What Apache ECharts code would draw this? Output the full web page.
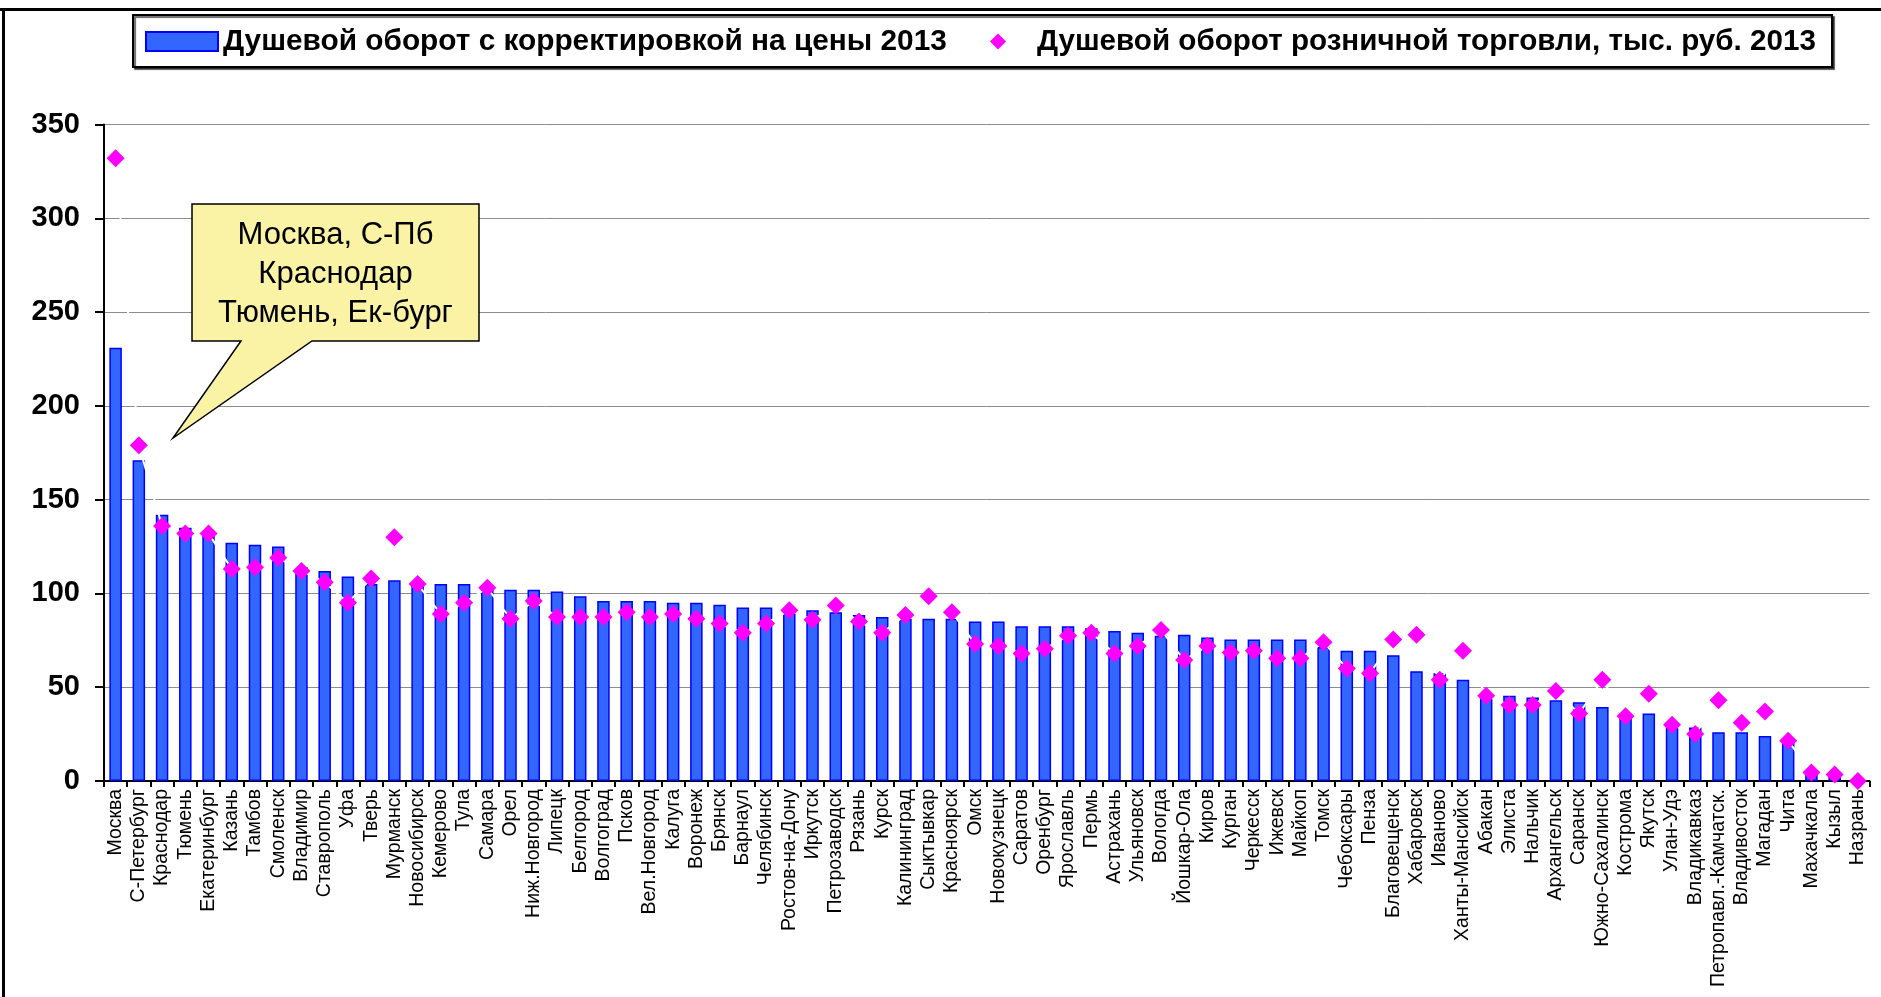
<!DOCTYPE html>
<html>
<head>
<meta charset="utf-8">
<script src="https://cdn.jsdelivr.net/npm/echarts@6/dist/echarts.min.js"></script>
<style>
html,body{margin:0;padding:0;background:#fff;}
#chart{width:1881px;height:997px;}
</style>
</head>
<body>
<div id="chart"></div>
<script>
const categories = ['Москва','С-Петербург','Краснодар','Тюмень','Екатеринбург','Казань','Тамбов','Смоленск','Владимир','Ставрополь','Уфа','Тверь','Мурманск','Новосибирск','Кемерово','Тула','Самара','Орел','Ниж.Новгород','Липецк','Белгород','Волгоград','Псков','Вел.Новгород','Калуга','Воронеж','Брянск','Барнаул','Челябинск','Ростов-на-Дону','Иркутск','Петрозаводск','Рязань','Курск','Калининград','Сыктывкар','Красноярск','Омск','Новокузнецк','Саратов','Оренбург','Ярославль','Пермь','Астрахань','Ульяновск','Вологда','Йошкар-Ола','Киров','Курган','Черкесск','Ижевск','Майкоп','Томск','Чебоксары','Пенза','Благовещенск','Хабаровск','Иваново','Ханты-Мансийск','Абакан','Элиста','Нальчик','Архангельск','Саранск','Южно-Сахалинск','Кострома','Якутск','Улан-Удэ','Владикавказ','Петропавл.-Камчатск.','Владивосток','Магадан','Чита','Махачкала','Кызыл','Назрань'];

const adjustedTurnover = [231,171,142,135,133,127,126,125,114,112,109,105,107,106,105,105,104,102,102,101,98.5,96,96,96,95,95,94,92.5,92.5,92,91,90,88.5,87.5,86.5,86.5,86.5,85,85,82.5,82.5,82.5,81.5,80,79,77.5,78,76.5,75.5,75.5,75.5,75.5,71.5,69.5,69.5,67,58.5,57.5,54,45.5,45.5,44.5,43,42,39.5,36,36,30,28.5,26,26,24,21,4,3,0];

const retailTurnover = [332,179,136,132,132,113,114,119,112,106,95,108,130,105,89,95,103,86.5,96,87.5,87.5,87.5,90,87.5,89,86.5,84,79,84,91,86,93.5,85,79,88.5,98.5,90,73,72,68,70.5,77.5,79,68,72,80.5,64.5,72,68.5,69.5,65.5,65.5,74,60,57.5,75.5,78,54,69.5,45.5,40.5,40.5,48,36,54,34.5,46.5,30,25,43,31,37,21.5,4.5,3.5,0];

const yTicks = {min: 0, max: 350, interval: 50};

const seriesNames = ['Душевой оборот с корректировкой на цены 2013', 'Душевой оборот розничной торговли, тыс. руб. 2013'];
const calloutText = 'Москва, С-Пб\nКраснодар\nТюмень, Ек-бург';

const FONT = "'Liberation Sans', Arial, sans-serif";
const chart = echarts.init(document.getElementById('chart'), null, {renderer: 'canvas'});

chart.setOption({
  animation: false,
  backgroundColor: '#fff',
  textStyle: {fontFamily: FONT},
  grid: {left: 104, right: 11.5, top: 124.5, bottom: 216, containLabel: false},
  legend: [
    {
      data: [{name: seriesNames[0], icon: 'rect'}],
      left: 145, top: 26.5, padding: 0,
      itemWidth: 72, itemHeight: 19,
      selectedMode: false,
      textStyle: {fontSize: 29.8, fontWeight: 'bold', color: '#000', fontFamily: FONT}
    },
    {
      data: [{name: seriesNames[1], icon: 'diamond'}],
      left: 990, top: 26.5, padding: 0,
      itemWidth: 16, itemHeight: 16,
      selectedMode: false,
      textStyle: {fontSize: 29.6, fontWeight: 'bold', color: '#000', fontFamily: FONT, padding: [0, 0, 0, 26]}
    }
  ],
  xAxis: {
    type: 'category',
    data: categories,
    boundaryGap: true,
    axisLine: {show: true, lineStyle: {color: '#000', width: 2}},
    axisTick: {show: true, alignWithLabel: false, interval: 0, length: 6, lineStyle: {color: '#000', width: 2}},
    axisLabel: {interval: 0, rotate: 90, fontSize: 19.5, color: '#000', margin: 8, fontFamily: FONT},
    splitLine: {show: false}
  },
  yAxis: {
    type: 'value',
    min: yTicks.min, max: yTicks.max, interval: yTicks.interval,
    axisLine: {show: true, lineStyle: {color: '#000', width: 2}},
    axisTick: {show: true, length: 9, lineStyle: {color: '#000', width: 2}},
    axisLabel: {fontSize: 29, fontWeight: 'bold', color: '#000', margin: 24, fontFamily: FONT},
    splitLine: {show: true, lineStyle: {color: '#8c8c8c', width: 1}}
  },
  series: [
    {
      name: seriesNames[0],
      type: 'bar',
      data: adjustedTurnover,
      barWidth: 12.5,
      itemStyle: {color: '#3366FF', borderColor: '#0000FF', borderWidth: 1.5},
      z: 2
    },
    {
      name: seriesNames[1],
      type: 'line',
      data: retailTurnover,
      symbol: 'diamond',
      symbolSize: 18,
      showAllSymbol: true,
      lineStyle: {color: '#ffffff', width: 2},
      itemStyle: {color: '#FF00FF', borderWidth: 0},
      z: 3
    }
  ],
  graphic: [
    {type: 'line', shape: {x1: 0, y1: 9.5, x2: 1881, y2: 9.5}, style: {stroke: '#000', lineWidth: 3}, z: 10},
    {type: 'line', shape: {x1: 3.5, y1: 8, x2: 3.5, y2: 997}, style: {stroke: '#000', lineWidth: 3}, z: 10},
    {type: 'rect', shape: {x: 133, y: 15, width: 1699, height: 52}, style: {fill: '#fff', stroke: '#000', lineWidth: 2, shadowColor: 'rgba(0,0,0,0.6)', shadowOffsetX: 2, shadowOffsetY: 2, shadowBlur: 1}, z: -1},
    {type: 'polygon', shape: {points: [[192,204],[479,204],[479,341],[312,341],[173,438],[241,341],[192,341]]}, style: {fill: '#FAF3A6', stroke: '#000', lineWidth: 1.5}, z: 20},
    {type: 'text', x: 335.5, y: 274, style: {text: calloutText, fontSize: 31, fontFamily: FONT, fill: '#000', align: 'center', verticalAlign: 'middle', lineHeight: 39}, z: 21}
  ]
});
</script>
</body>
</html>
